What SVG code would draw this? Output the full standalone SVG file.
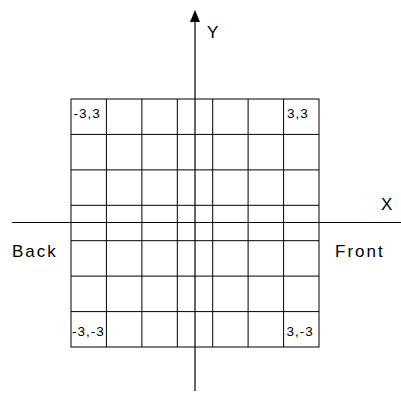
<svg xmlns="http://www.w3.org/2000/svg" width="401" height="393" viewBox="0 0 401 393">
<style>
.g{stroke:#000;stroke-width:1;fill:none}
.ax{stroke:#000;stroke-width:1.2;fill:none}
.lbl{font-family:"Liberation Sans",Arial,sans-serif;font-size:17px;letter-spacing:2px;fill:#000}
.cl{font-family:"Liberation Sans",Arial,sans-serif;font-size:13.5px;letter-spacing:1px;fill:#000}
</style>
<defs>
<marker id="arr" markerWidth="12" markerHeight="10" refX="1" refY="5" orient="auto" markerUnits="userSpaceOnUse" viewBox="0 0 12 10">
<path d="M0,0 L12,5 L0,10 Z" fill="#000"/>
</marker>
</defs>
<g id="grid">
<rect class="g" x="71" y="99" width="248" height="248"/>
<path class="g" d="M106.4,99V347M141.9,99V347M177.3,99V347M212.7,99V347M248.1,99V347M283.6,99V347M71,134.4H319M71,169.9H319M71,205.3H319M71,240.7H319M71,276.1H319M71,311.6H319"/>
</g>
<g id="connectors">
<line class="ax" x1="12" y1="222.5" x2="401" y2="222.5"/>
<line class="ax" x1="195" y1="391" x2="195" y2="21" marker-end="url(#arr)"/>
</g>
<g id="labels">
<text class="lbl" x="207" y="38">Y</text>
<text class="lbl" x="381" y="210">X</text>
<text class="lbl" x="12" y="257">Back</text>
<text class="lbl" x="335" y="257">Front</text>
</g>
<g id="cells">
<text class="cl" x="73.5" y="118">-3,3</text>
<text class="cl" x="287" y="118">3,3</text>
<text class="cl" x="72" y="336">-3,-3</text>
<text class="cl" x="286.5" y="336">3,-3</text>
</g>
</svg>
